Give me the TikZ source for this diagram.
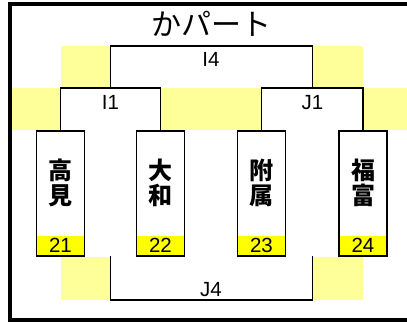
\documentclass[tikz,border=0pt]{standalone}
\usepackage{fontspec}
\setmainfont{Liberation Sans}
\newfontfamily\jp{Noto Sans CJK JP}
\usetikzlibrary{positioning}
\definecolor{paleyellow}{HTML}{FFFF99}
\definecolor{stripyellow}{HTML}{FFFF00}
\tikzset{
  team/.style={draw, line width=1.7bp, outer sep=0pt, inner sep=0pt, minimum width=48bp, minimum height=125bp},
  seed/.style={fill=stripyellow, inner sep=0pt, minimum width=46.3bp, minimum height=19.3bp, font=\fontsize{20.5bp}{20.5bp}\selectfont},
  school/.style={align=center, inner sep=0pt, font=\jp\bfseries\fontsize{24bp}{25bp}\selectfont},
  matchlbl/.style={inner sep=0pt, font=\fontsize{20.5bp}{20.5bp}\selectfont},
  bracket/.style={line width=1.3bp}
}
\begin{document}
\begin{tikzpicture}[x=1bp,y=-1bp]
\useasboundingbox (0,0) rectangle (407,322);
\foreach \xa/\ya/\xb/\yb in {61/46/110/88, 312/46/363/88, 12/88/61/130, 161/88/262/130, 363/88/407/130, 61/257/110/300, 312/257/363/300}
  \fill[paleyellow] (\xa,\ya) rectangle (\xb,\yb);
\draw[line width=3.5bp] (407,4) -- (10,4) -- (10,320) -- (407,320);
\node[font=\jp\fontsize{30bp}{30bp}\selectfont] (title) at (211,24) {かパート};
\node[team] (t21) at (60.5,193.5) {};
\node[team] (t22) at (160.5,193.5) {};
\node[team] (t23) at (261.5,193.5) {};
\node[team] (t24) at (363,193.5) {};
\foreach \n/\s in {21/{高\\見}, 22/{大\\和}, 23/{附\\属}, 24/{福\\富}} {
  \node[school] (n\n) at ([yshift=10.5bp]t\n.center) {\s};
  \node[seed, anchor=south] (s\n) at ([yshift=0.85bp]t\n.south) {\n};
}
\coordinate (i1) at (110.5,88);
\coordinate (j1) at (312.5,88);
\coordinate (i4) at (211,46);
\coordinate (j4) at (211,300);
\draw[bracket] (t21.north) |- (i1) -| (t22.north);
\draw[bracket] (t23.north) |- (j1) -| (t24.north);
\draw[bracket] (i1) |- (i4) -| (j1);
\draw[bracket] (i1 |- t21.south) |- (j4) -| (j1 |- t24.south);
\node[matchlbl, below=6bp of i4] (li4) {I4};
\node[matchlbl, below=7bp of i1] (li1) {I1};
\node[matchlbl, below=7bp of j1] (lj1) {J1};
\node[matchlbl, above=3bp of j4] (lj4) {J4};
\end{tikzpicture}
\end{document}
